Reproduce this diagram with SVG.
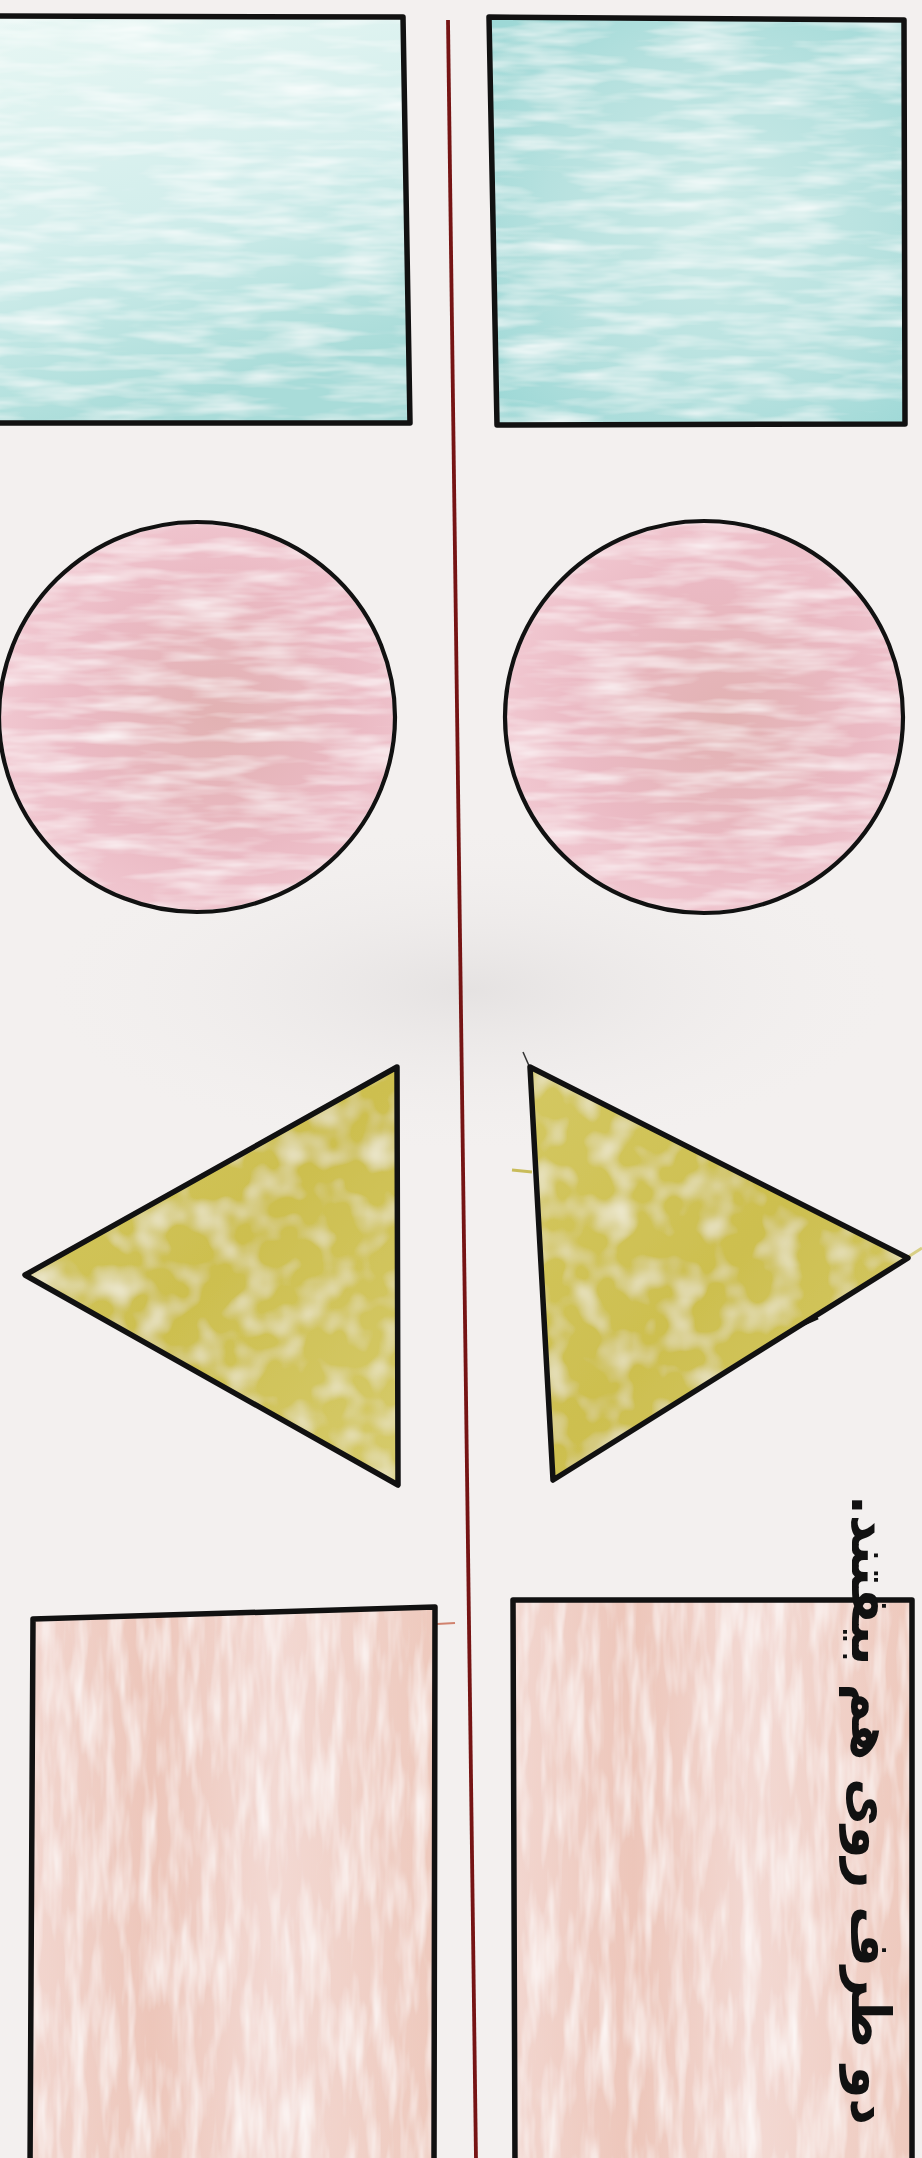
<svg xmlns="http://www.w3.org/2000/svg" width="922" height="2158" viewBox="0 0 922 2158">
  <style>
    .ink { fill: none; stroke: #111; stroke-width: 5.5; stroke-linejoin: round; stroke-linecap: round; }
    .ink-thin { fill: none; stroke: #111; stroke-width: 4.2; }
    .caption { font-family: "DejaVu Sans", "Noto Sans", sans-serif; font-size: 54px; font-weight: bold; fill: #111; }
  </style>
  <defs>
    <linearGradient id="cyanL" x1="0" y1="0" x2="0.3" y2="1">
      <stop offset="0" stop-color="#e8f7f4"/>
      <stop offset="0.55" stop-color="#d3eeec"/>
      <stop offset="1" stop-color="#a9dcd9"/>
    </linearGradient>
    <radialGradient id="cyanR" cx="0.55" cy="0.5" r="0.7">
      <stop offset="0" stop-color="#cdebe8"/>
      <stop offset="0.6" stop-color="#b6e1df"/>
      <stop offset="1" stop-color="#9dd8d6"/>
    </radialGradient>
    <radialGradient id="pink" cx="0.55" cy="0.5" r="0.6">
      <stop offset="0" stop-color="#e2b2b3"/>
      <stop offset="0.6" stop-color="#ebbac4"/>
      <stop offset="1" stop-color="#f2cad3"/>
    </radialGradient>
    <linearGradient id="olive" x1="0" y1="0" x2="1" y2="1">
      <stop offset="0" stop-color="#d4c862"/>
      <stop offset="0.5" stop-color="#cdbf4f"/>
      <stop offset="1" stop-color="#d6cb6c"/>
    </linearGradient>
    <linearGradient id="peach" x1="0" y1="0" x2="1" y2="0">
      <stop offset="0" stop-color="#f2d6cf"/>
      <stop offset="0.3" stop-color="#edc6ba"/>
      <stop offset="0.6" stop-color="#f3d9d3"/>
      <stop offset="1" stop-color="#eec9bd"/>
    </linearGradient>
    <radialGradient id="shade" cx="0.5" cy="0.5" r="0.5">
      <stop offset="0" stop-color="#dcd9d9" stop-opacity="0.6"/>
      <stop offset="1" stop-color="#efecec" stop-opacity="0"/>
    </radialGradient>
    <filter id="pencilH" x="0" y="0" width="1" height="1">
      <feTurbulence type="fractalNoise" baseFrequency="0.012 0.07" numOctaves="3" seed="4" result="n"/>
      <feColorMatrix in="n" type="matrix" values="0 0 0 0 1  0 0 0 0 1  0 0 0 0 1  0 0 0 -1.4 0.85" result="w"/>
      <feComposite in="w" in2="SourceGraphic" operator="in" result="wm"/>
      <feMerge><feMergeNode in="SourceGraphic"/><feMergeNode in="wm"/></feMerge>
    </filter>
    <filter id="pencilV" x="0" y="0" width="1" height="1">
      <feTurbulence type="fractalNoise" baseFrequency="0.07 0.012" numOctaves="3" seed="7" result="n"/>
      <feColorMatrix in="n" type="matrix" values="0 0 0 0 1  0 0 0 0 1  0 0 0 0 1  0 0 0 -1.4 0.85" result="w"/>
      <feComposite in="w" in2="SourceGraphic" operator="in" result="wm"/>
      <feMerge><feMergeNode in="SourceGraphic"/><feMergeNode in="wm"/></feMerge>
    </filter>
    <filter id="pencilD" x="0" y="0" width="1" height="1">
      <feTurbulence type="fractalNoise" baseFrequency="0.03 0.03" numOctaves="2" seed="11" result="n"/>
      <feColorMatrix in="n" type="matrix" values="0 0 0 0 1  0 0 0 0 1  0 0 0 0 1  0 0 0 -1.2 0.65" result="w"/>
      <feComposite in="w" in2="SourceGraphic" operator="in" result="wm"/>
      <feMerge><feMergeNode in="SourceGraphic"/><feMergeNode in="wm"/></feMerge>
    </filter>
  </defs>

  <!-- paper -->
  <rect x="0" y="0" width="922" height="2158" fill="#f3f0ef"/>
  <ellipse cx="470" cy="990" rx="420" ry="160" fill="url(#shade)"/>

  <!-- mirror line -->
  <g id="mirror-line">
    <line x1="448" y1="20" x2="476" y2="2160" stroke="#761414" stroke-width="3.8"/>
  </g>

  <g id="square-top-left">
    <polygon points="-5,16 403,17 410,423 -5,423" fill="url(#cyanL)" filter="url(#pencilH)"/>
    <polyline class="ink" points="-5,16 403,17 410,423 -5,423"/>
  </g>

  <g id="square-top-right">
    <polygon points="489,17 904,20 905,424 497,425" fill="url(#cyanR)" filter="url(#pencilH)"/>
    <polygon class="ink" points="489,17 904,20 905,424 497,425"/>
  </g>

  <g id="circle-left">
    <ellipse cx="197" cy="717" rx="196" ry="193" fill="url(#pink)" filter="url(#pencilH)"/>
    <ellipse class="ink-thin" cx="197" cy="717" rx="198" ry="195"/>
  </g>

  <g id="circle-right">
    <ellipse cx="704" cy="717" rx="197" ry="194" fill="url(#pink)" filter="url(#pencilH)"/>
    <ellipse class="ink-thin" cx="704" cy="717" rx="199" ry="196"/>
  </g>

  <g id="triangle-left">
    <polygon points="397,1067 25,1275 398,1485" fill="url(#olive)" filter="url(#pencilD)"/>
    <polygon class="ink" points="397,1067 25,1275 398,1485"/>
  </g>

  <g id="triangle-right">
    <line x1="523" y1="1052" x2="530" y2="1068" stroke="#333" stroke-width="1.5"/>
    <line x1="512" y1="1170" x2="532" y2="1172" stroke="#c9bc5a" stroke-width="3"/>
    <line x1="908" y1="1257" x2="922" y2="1248" stroke="#d8cf86" stroke-width="3"/>
    <polygon points="530,1067 908,1258 553,1480" fill="url(#olive)" filter="url(#pencilD)"/>
    <polygon class="ink" points="530,1067 908,1258 553,1480"/>
    <line x1="800" y1="1326" x2="818" y2="1318" stroke="#111" stroke-width="3"/>
  </g>

  <g id="rect-bottom-left">
    <polygon points="33,1619 435,1607 434,2170 30,2170" fill="url(#peach)" filter="url(#pencilV)"/>
    <line x1="437" y1="1624" x2="455" y2="1623" stroke="#d0826e" stroke-width="2"/>
    <polyline class="ink" points="30,2170 33,1619 435,1607 434,2170"/>
  </g>

  <g id="rect-bottom-right">
    <polygon points="513,1600 912,1600 912,2170 515,2170" fill="url(#peach)" filter="url(#pencilV)"/>
    <polyline class="ink" points="515,2170 513,1600 912,1600 912,2170"/>
  </g>

  <g id="caption">
    <text class="caption" direction="rtl" text-anchor="middle" textLength="630" lengthAdjust="spacingAndGlyphs" transform="translate(852,1810) rotate(90)">دو طرف روی هم بیفتند.</text>
  </g>
</svg>
